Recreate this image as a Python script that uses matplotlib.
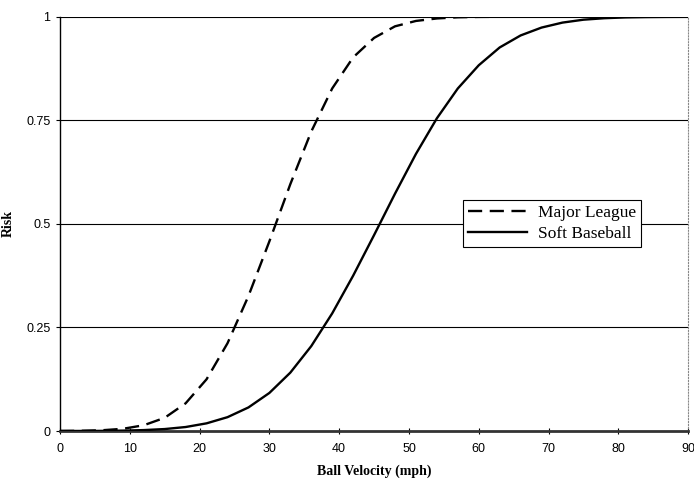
import matplotlib
matplotlib.use('Agg')
import matplotlib.pyplot as plt

# values
velocity = [0, 3, 6, 9, 12, 15, 18, 21, 24, 27, 30, 33, 36, 39, 42, 45,
            48, 51, 54, 57, 60, 63, 66, 69, 72, 75, 78, 81, 84, 87, 90]
major_league = [0.0002, 0.0006, 0.0019, 0.0054, 0.014, 0.032, 0.067, 0.125,
                0.212, 0.326, 0.458, 0.596, 0.723, 0.827, 0.902, 0.949,
                0.977, 0.990, 0.996, 0.9988, 0.9997, 1, 1, 1, 1, 1, 1, 1, 1, 1, 1]
soft_baseball = [0.0001, 0.0002, 0.0004, 0.001, 0.0023, 0.0048, 0.0097, 0.0186,
                 0.0335, 0.057, 0.092, 0.141, 0.205, 0.284, 0.375, 0.473,
                 0.573, 0.669, 0.755, 0.827, 0.883, 0.926, 0.955, 0.974,
                 0.986, 0.993, 0.9966, 0.9985, 0.9993, 0.9997, 0.9999]
x_ticks = [0, 10, 20, 30, 40, 50, 60, 70, 80, 90]
y_ticks = [0, 0.25, 0.5, 0.75, 1]
y_tick_labels = ['0', '0.25', '0.5', '0.75', '1']

fig = plt.figure(figsize=(6.94, 4.8), dpi=100)
ax = fig.add_axes([0.0865, 0.102, 0.905, 0.863])

for y in y_ticks[1:]:
    ax.axhline(y, color='black', lw=0.8, zorder=1)

ax.plot(velocity, major_league, color='black', lw=1.7, dashes=(6, 3.2),
        label='Major League', zorder=3)
ax.plot(velocity, soft_baseball, color='black', lw=1.7,
        label='Soft Baseball', zorder=3)

ax.set_xlim(0, 90)
ax.set_ylim(0, 1)
ax.set_xticks(x_ticks)
ax.set_yticks(y_ticks)
ax.set_yticklabels(y_tick_labels)
ax.tick_params(axis='both', direction='out', length=3, width=0.8,
               labelsize=9, pad=4)
for lab in ax.get_xticklabels() + ax.get_yticklabels():
    lab.set_fontfamily('Liberation Sans')
ax.tick_params(axis='x', direction='inout', length=5, pad=6)

ax.spines['top'].set_visible(False)
ax.spines['right'].set_color('#888888')
ax.spines['right'].set_linestyle(':')
ax.spines['right'].set_linewidth(0.8)
ax.spines['left'].set_linewidth(1.0)
ax.spines['bottom'].set_linewidth(2.0)
ax.spines['bottom'].set_color('#333333')

ax.set_xlabel('Ball Velocity (mph)', family='Liberation Serif',
              fontweight='bold', fontsize=10)
ax.set_ylabel('Risk', family='Liberation Serif', fontweight='bold',
              fontsize=10)
ax.xaxis.set_label_coords(0.5, -0.082)
ax.yaxis.set_label_coords(-0.072, 0.5)

leg = ax.legend(loc='upper left', bbox_to_anchor=(0.642, 0.558),
                prop={'family': 'Liberation Serif', 'size': 12.5},
                fancybox=False, edgecolor='black', framealpha=1,
                handlelength=3.4, borderpad=0.3, labelspacing=0.25,
                handletextpad=0.6, borderaxespad=0)
leg.get_frame().set_linewidth(0.8)
leg.set_zorder(4)

plt.savefig('out.png', dpi=100)
